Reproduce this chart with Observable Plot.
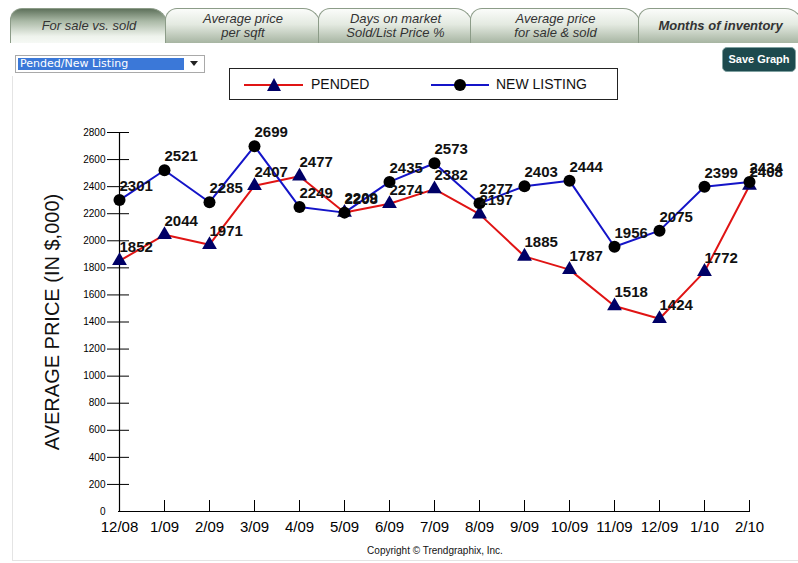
<!DOCTYPE html>
<html>
<head>
<meta charset="utf-8">
<script src="https://cdn.jsdelivr.net/npm/d3@7"></script>
<script src="https://cdn.jsdelivr.net/npm/@observablehq/plot@0.6"></script>
<style>
  html, body { margin: 0; padding: 0; background: #fff; }
  #page { position: relative; width: 798px; height: 563px; overflow: hidden; font-family: Arial, "Liberation Sans", sans-serif; }
  .panel { position: absolute; left: 12px; top: 76px; width: 790px; height: 484px; border-left: 1px solid #e4e4e4; border-bottom: 1px solid #e4e4e4; }
  .tab { position: absolute; top: 8px; height: 35px; box-sizing: border-box;
         border: 1px solid #8c9c88; border-bottom: none; border-radius: 12px 18px 0 0;
         background: linear-gradient(#fbfcfa 0%, #e4eae1 45%, #a7b5a2 100%);
         display: flex; align-items: center; justify-content: center; text-align: center;
         font: italic 13px Arial, "Liberation Sans", sans-serif; line-height: 14px; color: #333; }
  .tab.active { background: linear-gradient(#5f725c 0%, #a9b8a5 35%, #eef3ec 80%, #f6f9f5 100%); }
  .tab.bold { font-weight: bold; }
  .select { position: absolute; left: 15px; top: 55px; width: 190px; height: 18px; box-sizing: border-box;
            border: 1px solid #a9a9a9; background: #fff; }
  .select .hl { position: absolute; left: 2px; top: 2px; width: 164px; height: 12px; background: #3b78d8;
                color: #fff; font: 11px "DejaVu Sans", sans-serif; line-height: 12px; padding-left: 2px; }
  .select .arrow { position: absolute; right: 6px; top: 5px; width: 0; height: 0;
                   border-left: 4px solid transparent; border-right: 4px solid transparent; border-top: 5px solid #222; }
  .save { position: absolute; left: 722px; top: 47px; width: 74px; height: 25px; box-sizing: border-box;
          background: #1d4a4e; border: 1px solid #7fa0a0; border-radius: 5px;
          color: #fff; font: bold 11px Arial, "Liberation Sans", sans-serif; line-height: 23px; text-align: center; }
  .legend { position: absolute; left: 229px; top: 68px; width: 389px; height: 32px; box-sizing: border-box;
            border: 1px solid #222; background: #fff; }
  .legend svg { position: absolute; left: 0; top: 0; }
  .legend span { position: absolute; top: 7px; font: 14px Arial, "Liberation Sans", sans-serif; color: #111; }
  #chart { position: absolute; left: 0; top: 110px; }
  .copy { position: absolute; left: 0; width: 870px; top: 545px; text-align: center;
          font: 10px Arial, "Liberation Sans", sans-serif; color: #111; }
</style>
</head>
<body>
<div id="page">
  <div class="panel"></div>
  <div class="tab active" style="left:10px;width:158px;">For sale vs. sold</div>
  <div class="tab" style="left:165px;width:156px;">Average price<br>per sqft</div>
  <div class="tab" style="left:318px;width:155px;">Days on market<br>Sold/List Price %</div>
  <div class="tab" style="left:470px;width:171px;">Average price<br>for sale &amp; sold</div>
  <div class="tab bold" style="left:638px;width:165px;">Months of inventory</div>

  <div class="select"><div class="hl">Pended/New Listing</div><div class="arrow"></div></div>
  <div class="save">Save Graph</div>

  <div class="legend">
    <svg width="389" height="32">
      <line x1="14" x2="73" y1="16" y2="16" stroke="#e01414" stroke-width="2"/>
      <path d="M44,9 L51,22 L37,22 Z" fill="#000066"/>
      <line x1="201" x2="259" y1="16" y2="16" stroke="#1414c8" stroke-width="2"/>
      <circle cx="230" cy="16" r="6" fill="#000"/>
    </svg>
    <span style="left:81px;">PENDED</span>
    <span style="left:266px;">NEW LISTING</span>
  </div>

  <div id="chart"></div>
  <div class="copy">Copyright &copy; Trendgraphix, Inc.</div>
</div>
<script>
// Monthly average prices (in $,000)
const months = ["12/08", "1/09", "2/09", "3/09", "4/09", "5/09", "6/09", "7/09",
                "8/09", "9/09", "10/09", "11/09", "12/09", "1/10", "2/10"];
const pended = [1852, 2044, 1971, 2407, 2477, 2209, 2274, 2382, 2197, 1885, 1787, 1518, 1424, 1772, 2408];
const newListing = [2301, 2521, 2285, 2699, 2249, 2208, 2435, 2573, 2277, 2403, 2444, 1956, 2075, 2399, 2434];
const yTicks = d3.range(0, 2801, 200);

const rows = months.map((m, i) => ({month: m, pended: pended[i], newListing: newListing[i]}));

const red = "#e01414";
const blue = "#1414c8";

const chart = Plot.plot({
  width: 798,
  height: 453,
  marginLeft: 118,
  marginRight: 48,
  marginTop: 22,
  marginBottom: 52,
  style: {fontFamily: "Arial, 'Liberation Sans', sans-serif", color: "#000", background: "transparent", overflow: "visible"},
  x: {type: "point", domain: months, padding: 0, label: null},
  y: {domain: [0, 2800], label: null},
  marks: [
    // axis lines
    Plot.ruleY([0], {stroke: "#000", strokeWidth: 1.2}),
    Plot.ruleX([months[0]], {y1: 0, y2: 2800, stroke: "#000", strokeWidth: 1.2}),
    // y tick labels and crossing tick marks
    Plot.axisY({ticks: yTicks, tickSize: 0, tickPadding: 13, fontSize: 10, tickFormat: d3.format("d"), label: null}),
    Plot.axisY({ticks: yTicks.filter(v => v > 0), tickSize: 22, dx: 11, tickFormat: () => "", label: null}),
    // x tick labels and upward tick marks
    Plot.axisX({tickSize: 0, tickPadding: 10, fontSize: 15, label: null}),
    Plot.axisX({tickSize: 11, dy: -11, tickFormat: () => "", label: null}),
    // y axis title
    Plot.text(["AVERAGE PRICE (IN $,000)"], {frameAnchor: "left", textAnchor: "middle", dx: -66, rotate: -90, fontSize: 20, fill: "#111"}),
    // series
    Plot.line(rows, {x: "month", y: "pended", stroke: red, strokeWidth: 2}),
    Plot.line(rows, {x: "month", y: "newListing", stroke: blue, strokeWidth: 2}),
    Plot.dot(rows, {x: "month", y: "pended", symbol: "triangle", r: 5.5, fill: "#000066"}),
    Plot.dot(rows, {x: "month", y: "newListing", symbol: "circle", r: 6, fill: "#000"}),
    // value labels
    Plot.text(rows, {x: "month", y: "pended", text: d => String(d.pended), textAnchor: "start", lineAnchor: "bottom",
                     dy: -9, fontSize: 15, fontWeight: "bold", fill: "#111"}),
    Plot.text(rows, {x: "month", y: "newListing", text: d => String(d.newListing), textAnchor: "start", lineAnchor: "bottom",
                     dy: -9, fontSize: 15, fontWeight: "bold", fill: "#111"})
  ]
});

document.getElementById("chart").appendChild(chart);
</script>
</body>
</html>
